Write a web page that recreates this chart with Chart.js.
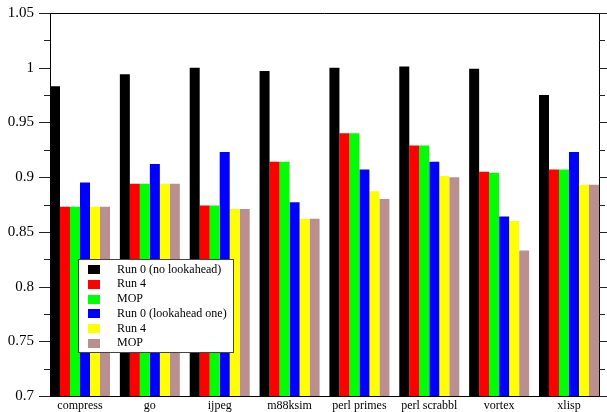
<!DOCTYPE html>
<html>
<head>
<meta charset="utf-8">
<script src="https://cdn.jsdelivr.net/npm/chart.js@4/dist/chart.umd.min.js"></script>
<style>
  html, body { margin: 0; padding: 0; background: #fff; }
  #wrap { width: 607px; height: 412px; position: relative; }
</style>
</head>
<body>
<div id="wrap"><canvas id="c"></canvas></div>
<script>
// Benchmarks along the x axis
const categories = ['compress', 'go', 'ijpeg', 'm88ksim', 'perl primes', 'perl scrabbl', 'vortex', 'xlisp'];

// Normalised results per run
const run0NoLookahead  = [0.983, 0.994, 1.000, 0.997, 1.000, 1.001, 0.999, 0.975];
const run4A            = [0.873, 0.894, 0.874, 0.914, 0.940, 0.929, 0.905, 0.907];
const mopA             = [0.873, 0.894, 0.874, 0.914, 0.940, 0.929, 0.904, 0.907];
const run0LookaheadOne = [0.895, 0.912, 0.923, 0.877, 0.907, 0.914, 0.864, 0.923];
const run4B            = [0.873, 0.894, 0.871, 0.862, 0.887, 0.901, 0.860, 0.893];
const mopB             = [0.873, 0.894, 0.871, 0.862, 0.880, 0.900, 0.833, 0.893];

const seriesLabels = ['Run 0 (no lookahead)', 'Run 4', 'MOP', 'Run 0 (lookahead one)', 'Run 4', 'MOP'];
const seriesValues = [run0NoLookahead, run4A, mopA, run0LookaheadOne, run4B, mopB];
const seriesColors = ['#000000', '#ff0000', '#00ff00', '#0000ff', '#ffff00', '#bc8f8f'];

// Y axis tick labels
const yTicks = [0.7, 0.75, 0.8, 0.85, 0.9, 0.95, 1, 1.05];

const SERIF = '"Liberation Serif", "DejaVu Serif", serif';

const datasets = seriesValues.map((vals, s) => ({
  label: seriesLabels[s],
  data: vals.map((v, i) => ({ x: i, y: v })),
  backgroundColor: seriesColors[s],
  borderWidth: 0,
  categoryPercentage: 0.859,
  barPercentage: 1.0
}));

// Frame, outward ticks on both sides, and the boxed key
const framePlugin = {
  id: 'frame',
  afterDraw(chart) {
    const ctx = chart.ctx;
    const a = chart.chartArea;
    const ys = chart.scales.y;
    ctx.save();
    // top and right frame lines
    ctx.strokeStyle = '#000';
    ctx.lineWidth = 1;
    ctx.beginPath();
    ctx.moveTo(a.left, Math.round(a.top) + 0.5);
    ctx.lineTo(a.right, Math.round(a.top) + 0.5);
    ctx.moveTo(Math.round(a.right) + 0.5, a.top);
    ctx.lineTo(Math.round(a.right) + 0.5, a.bottom);
    ctx.stroke();

    // major and minor ticks
    const minor = [];
    for (let k = 0; k < yTicks.length - 1; k++) minor.push((yTicks[k] + yTicks[k + 1]) / 2);
    ctx.strokeStyle = '#222';
    ctx.beginPath();
    yTicks.forEach(v => {
      const y = Math.round(ys.getPixelForValue(v)) + 0.5;
      ctx.moveTo(a.left - 11, y); ctx.lineTo(a.left, y);
      ctx.moveTo(a.right, y); ctx.lineTo(a.right + 8, y);
    });
    minor.forEach(v => {
      const y = Math.round(ys.getPixelForValue(v)) + 0.5;
      ctx.moveTo(a.left - 6, y); ctx.lineTo(a.left, y);
      ctx.moveTo(a.right, y); ctx.lineTo(a.right + 6, y);
    });
    ctx.stroke();

    // key box
    const bx = 78.5, by = 259.5, bw = 155, bh = 93;
    ctx.fillStyle = '#fff';
    ctx.fillRect(bx, by, bw, bh);
    ctx.strokeStyle = '#444';
    ctx.strokeRect(bx, by, bw, bh);
    ctx.font = '12px ' + SERIF;
    ctx.textBaseline = 'middle';
    ctx.textAlign = 'left';
    chart.data.datasets.forEach((ds, i) => {
      const cy = 269.6 + i * 14.7;
      ctx.fillStyle = ds.backgroundColor;
      ctx.fillRect(88, Math.round(cy - 4.5), 12, 9);
      ctx.fillStyle = '#000';
      ctx.fillText(ds.label, 117, cy);
    });
    ctx.restore();
  }
};

new Chart(document.getElementById('c'), {
  type: 'bar',
  data: { datasets },
  options: {
    responsive: true,
    maintainAspectRatio: false,
    animation: false,
    layout: { padding: { left: 0, right: 8, top: 13, bottom: 0 } },
    plugins: { legend: { display: false }, tooltip: { enabled: false } },
    scales: {
      x: {
        type: 'linear',
        min: -0.4295,
        max: categories.length - 1 + 0.4295,
        offset: false,
        grid: { display: false, drawTicks: false },
        border: { display: true, color: '#000', width: 1 },
        afterBuildTicks: s => { s.ticks = categories.map((_, i) => ({ value: i })); },
        afterFit: s => { s.height = 16; s.paddingLeft = 0; s.paddingRight = 0; },
        ticks: {
          autoSkip: false,
          maxRotation: 0,
          padding: 3,
          color: '#000',
          font: { family: SERIF, size: 12 },
          callback: v => categories[v]
        }
      },
      y: {
        min: 0.7,
        max: 1.05,
        grid: { display: false, drawTicks: false },
        border: { display: true, color: '#000', width: 1 },
        afterBuildTicks: s => { s.ticks = yTicks.map(v => ({ value: v })); },
        afterFit: s => { s.width = 50; s.paddingTop = 0; s.paddingBottom = 0; },
        ticks: {
          padding: 16,
          color: '#000',
          font: { family: SERIF, size: 15 },
          callback: v => String(Number(v.toFixed(2)))
        }
      }
    }
  },
  plugins: [framePlugin]
});
</script>
</body>
</html>
